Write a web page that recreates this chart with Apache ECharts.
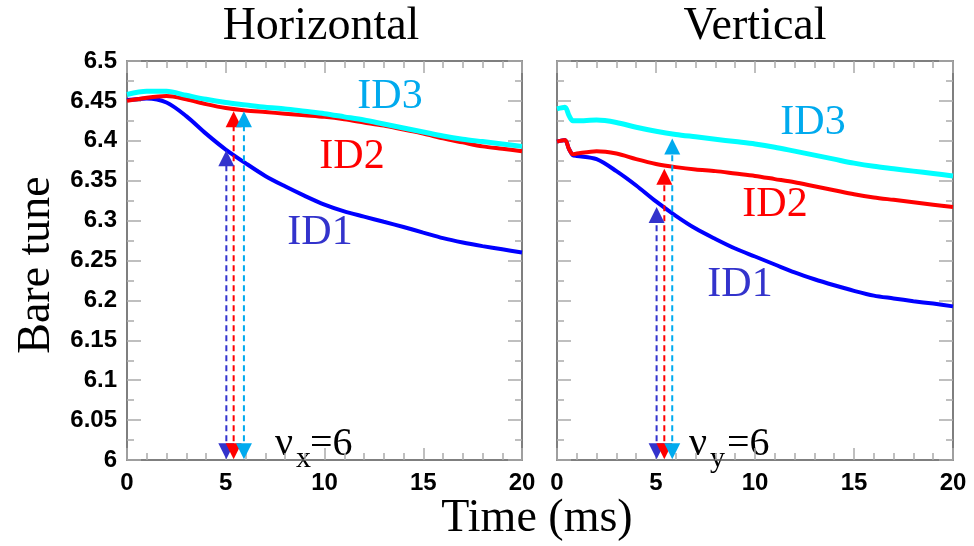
<!DOCTYPE html>
<html>
<head>
<meta charset="utf-8">
<script src="https://cdn.jsdelivr.net/npm/echarts@6/dist/echarts.min.js"></script>
<style>
  html, body { margin: 0; padding: 0; background: #fff; }
  #chart { width: 974px; height: 546px; }
</style>
</head>
<body>
<div id="chart"></div>
<script>
// Bare tune vs time for three insertion-device settings, horizontal and vertical planes
const timeH = [0, 1, 2, 3, 4, 5, 6, 7, 8, 9, 10, 11, 12, 13, 14, 15, 16, 17, 18, 19, 20];
const id1H = [6.451, 6.453, 6.448, 6.431, 6.409, 6.389, 6.372, 6.356, 6.343, 6.331, 6.320, 6.3115, 6.305, 6.2985, 6.292, 6.285, 6.278, 6.2725, 6.268, 6.264, 6.260];
const id2H = [6.450, 6.454, 6.456, 6.452, 6.446, 6.441, 6.438, 6.436, 6.434, 6.432, 6.430, 6.427, 6.423, 6.419, 6.414, 6.409, 6.403, 6.398, 6.393, 6.390, 6.387];
const id3H = [6.458, 6.462, 6.462, 6.457, 6.452, 6.448, 6.445, 6.442, 6.440, 6.437, 6.434, 6.430, 6.426, 6.421, 6.416, 6.411, 6.406, 6.402, 6.399, 6.396, 6.393];

const timeV = [0, 0.4, 0.6, 0.8, 1, 2, 3, 4, 5, 6, 7, 8, 9, 10, 11, 12, 13, 14, 15, 16, 17, 18, 19, 20];
const id1V = [6.399, 6.401, 6.390, 6.382, 6.381, 6.377, 6.362, 6.344, 6.324, 6.306, 6.290, 6.277, 6.265, 6.255, 6.245, 6.235, 6.2265, 6.219, 6.212, 6.206, 6.2025, 6.199, 6.196, 6.1925];
const id2V = [6.399, 6.401, 6.390, 6.383, 6.384, 6.387, 6.384, 6.377, 6.371, 6.367, 6.364, 6.362, 6.359, 6.356, 6.352, 6.348, 6.343, 6.338, 6.333, 6.329, 6.326, 6.323, 6.320, 6.317];
const id3V = [6.440, 6.442, 6.432, 6.425, 6.425, 6.426, 6.423, 6.417, 6.412, 6.408, 6.405, 6.402, 6.399, 6.396, 6.392, 6.387, 6.382, 6.377, 6.372, 6.368, 6.365, 6.362, 6.359, 6.356];

// Times at which each curve crosses the integer resonance, with the tune at that time
const crossTimeH = [5.03, 5.40, 5.92];
const crossTuneH = [6.378, 6.427, 6.427];
const crossTimeV = [5.03, 5.42, 5.82];
const crossTuneV = [6.307, 6.355, 6.393];
const resonanceTune = 6.011;

const seriesNames = ['ID1', 'ID2', 'ID3'];
const lineColors = ['#0000ff', '#ff0000', '#00ffff'];
const markColors = ['#3333cc', '#ff0000', '#00aaee'];

const SERIF = '"Liberation Serif", "Times New Roman", serif';
const SANS = '"Liberation Sans", Arial, sans-serif';

function pairs(xs, ys) { return xs.map((x, i) => [x, ys[i]]); }

function xAxisFor(grid, pos) {
  return {
    type: 'value', gridIndex: grid, position: pos, min: 0, max: 20, interval: 5,
    axisLine: { show: true, onZero: false, lineStyle: { color: '#555', width: 1.5 } },
    axisTick: { show: true, inside: true, length: 12, lineStyle: { color: '#aaa', width: 1.5 } },
    minorTick: { show: true, splitNumber: 5, length: 7, lineStyle: { color: '#aaa', width: 1.5 } },
    splitLine: { show: false },
    axisLabel: { show: pos === 'bottom', margin: 11, color: '#000', fontFamily: SANS, fontWeight: 'bold', fontSize: 24 }
  };
}
function yAxisFor(grid, pos, labels) {
  return {
    type: 'value', gridIndex: grid, position: pos, min: 6, max: 6.5, interval: 0.05,
    axisLine: { show: true, onZero: false, lineStyle: { color: '#555', width: 1.5 } },
    axisTick: { show: true, inside: true, length: 14, lineStyle: { color: '#aaa', width: 1.5 } },
    minorTick: { show: true, splitNumber: 2, length: 7, lineStyle: { color: '#aaa', width: 1.5 } },
    splitLine: { show: false },
    axisLabel: { show: labels, margin: 10, color: '#000', fontFamily: SANS, fontWeight: 'bold', fontSize: 24 }
  };
}

const series = [];
function addPanel(xi, yi, time, curves, crossT, crossV) {
  curves.forEach((vals, k) => {
    series.push({
      type: 'line', name: seriesNames[k], xAxisIndex: xi, yAxisIndex: yi,
      data: pairs(time, vals), smooth: 0.3, showSymbol: false, symbol: 'none',
      lineStyle: { color: lineColors[k], width: k === 2 ? 5 : 4 }, z: 3
    });
  });
  crossT.forEach((t, k) => {
    series.push({
      type: 'line', xAxisIndex: xi, yAxisIndex: yi, symbol: 'none',
      data: [[t, resonanceTune], [t, crossV[k]]],
      lineStyle: { color: markColors[k], width: 2, type: [6, 4] }, z: 4
    });
  });
  crossT.forEach((t, k) => {
    series.push({
      type: 'scatter', xAxisIndex: xi, yAxisIndex: yi,
      symbol: 'triangle', symbolSize: [16, 16],
      data: [[t, crossV[k]]], itemStyle: { color: markColors[k], opacity: 1 }, z: 5
    });
  });
  crossT.forEach((t, k) => {
    series.push({
      type: 'scatter', xAxisIndex: xi, yAxisIndex: yi,
      symbol: 'triangle', symbolRotate: 180, symbolSize: [16, 16],
      data: [[t, resonanceTune]], itemStyle: { color: markColors[k], opacity: 1 }, z: 5 + k
    });
  });
}
addPanel(0, 0, timeH, [id1H, id2H, id3H], crossTimeH, crossTuneH);
addPanel(2, 2, timeV, [id1V, id2V, id3V], crossTimeV, crossTuneV);

function txt(x, y, text, size, color, extra, align) {
  return Object.assign({
    type: 'text', x: x, y: y, silent: true,
    style: { text: text, fill: color, fontFamily: SERIF, fontSize: size, align: align || 'center', verticalAlign: 'middle' }
  }, extra || {});
}

const chart = echarts.init(document.getElementById('chart'), null, { renderer: 'canvas' });
chart.setOption({
  backgroundColor: '#fff',
  animation: false,
  grid: [
    { left: 127, top: 61, width: 395, height: 399 },
    { left: 557, top: 61, width: 396, height: 399 }
  ],
  xAxis: [xAxisFor(0, 'bottom'), xAxisFor(0, 'top'), xAxisFor(1, 'bottom'), xAxisFor(1, 'top')],
  yAxis: [yAxisFor(0, 'left', true), yAxisFor(0, 'right', false), yAxisFor(1, 'left', false), yAxisFor(1, 'right', false)],
  series: series,
  graphic: [
    txt(321, 27, 'Horizontal', 46, '#000'),
    txt(755, 27, 'Vertical', 46, '#000'),
    txt(537, 519, 'Time (ms)', 46, '#000'),
    txt(37, 265, 'Bare tune', 46, '#000', { rotation: Math.PI / 2 }),
    txt(390, 97, 'ID3', 42, markColors[2]),
    txt(352, 157, 'ID2', 42, markColors[1]),
    txt(320, 233, 'ID1', 42, markColors[0]),
    txt(813, 123, 'ID3', 42, markColors[2]),
    txt(775, 205, 'ID2', 42, markColors[1]),
    txt(740, 285, 'ID1', 42, markColors[0]),
    txt(275, 444, 'ν', 40, '#000', null, 'left'),
    txt(296, 459, 'x', 30, '#000', null, 'left'),
    txt(310, 444, '=6', 40, '#000', null, 'left'),
    txt(689, 444, 'ν', 40, '#000', null, 'left'),
    txt(710, 459, 'y', 30, '#000', null, 'left'),
    txt(727, 444, '=6', 40, '#000', null, 'left')
  ]
});
</script>
</body>
</html>
